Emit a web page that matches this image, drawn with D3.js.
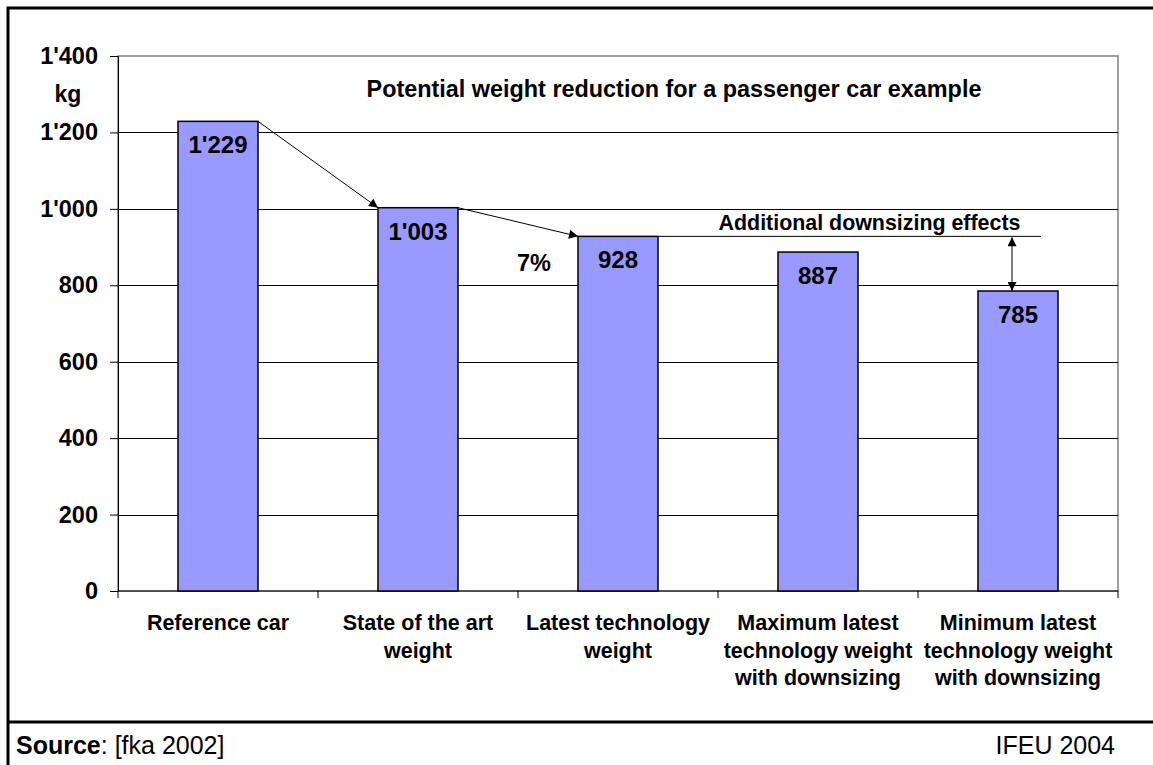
<!DOCTYPE html>
<html>
<head>
<meta charset="utf-8">
<script src="https://cdn.jsdelivr.net/npm/d3@7"></script>
<style>
  body { margin: 0; background: #fff; }
  svg { display: block; font-family: "Liberation Sans", Arial, sans-serif; }
</style>
</head>
<body>
<svg id="svg" width="1153" height="765"></svg>
<script>
// chart data
var categories = [
  ["Reference car"],
  ["State of the art", "weight"],
  ["Latest technology", "weight"],
  ["Maximum latest", "technology weight", "with downsizing"],
  ["Minimum latest", "technology weight", "with downsizing"]
];
var weights = [1229, 1003, 928, 887, 785];
var valueLabels = ["1'229", "1'003", "928", "887", "785"];
var yTicks = [0, 200, 400, 600, 800, 1000, 1200, 1400];

var svg = d3.select("#svg");

// outer frame + footer separator
svg.append("rect")
    .attr("x", 8).attr("y", 8)
    .attr("width", 1160).attr("height", 780)
    .attr("fill", "none").attr("stroke", "#000").attr("stroke-width", 3);
svg.append("line")
    .attr("x1", 8).attr("x2", 1153)
    .attr("y1", 722).attr("y2", 722)
    .attr("stroke", "#000").attr("stroke-width", 3);

var plotLeft = 118, plotRight = 1118, plotTop = 56, plotBottom = 591;

var x = d3.scaleBand()
    .domain(d3.range(weights.length))
    .range([plotLeft, plotRight])
    .paddingInner(0.6)
    .paddingOuter(0.3);

var y = d3.scaleLinear()
    .domain([0, 1400])
    .range([plotBottom, plotTop]);

// plot area border (grey)
svg.append("rect")
    .attr("x", plotLeft).attr("y", plotTop)
    .attr("width", plotRight - plotLeft).attr("height", plotBottom - plotTop)
    .attr("fill", "none").attr("stroke", "#808080").attr("stroke-width", 1.5);

// gridlines
svg.append("g")
  .selectAll("line")
  .data(yTicks.filter(function(d) { return d > 0 && d < 1400; }))
  .enter().append("line")
    .attr("x1", plotLeft).attr("x2", plotRight)
    .attr("y1", function(d) { return Math.round(y(d)) + 0.5; })
    .attr("y2", function(d) { return Math.round(y(d)) + 0.5; })
    .attr("stroke", "#000").attr("stroke-width", 1);

// y axis
var yAxis = svg.append("g")
    .attr("transform", "translate(" + plotLeft + ",0)")
    .call(d3.axisLeft(y).tickValues(yTicks).tickSize(8).tickPadding(12)
      .tickFormat(function(d) { return d3.format(",")(d).replace(",", "'"); }));
yAxis.select(".domain").attr("stroke", "#000");
yAxis.selectAll("text")
    .attr("font-size", 23.5).attr("font-weight", "bold").attr("fill", "#000")
    .attr("font-family", "Liberation Sans, Arial, sans-serif");

svg.append("text")
    .attr("x", 68).attr("y", 102)
    .attr("text-anchor", "middle")
    .attr("font-size", 23).attr("font-weight", "bold")
    .text("kg");

// x axis line + ticks at band edges
svg.append("line")
    .attr("x1", plotLeft).attr("x2", plotRight)
    .attr("y1", plotBottom).attr("y2", plotBottom)
    .attr("stroke", "#000");
var step = x.step();
svg.append("g")
  .selectAll("line")
  .data(d3.range(weights.length + 1))
  .enter().append("line")
    .attr("x1", function(i) { return plotLeft + i * step; })
    .attr("x2", function(i) { return plotLeft + i * step; })
    .attr("y1", plotBottom).attr("y2", plotBottom + 7)
    .attr("stroke", "#000");

// bars
svg.append("g")
  .selectAll("rect")
  .data(weights)
  .enter().append("rect")
    .attr("x", function(d, i) { return x(i); })
    .attr("y", function(d) { return y(d); })
    .attr("width", x.bandwidth())
    .attr("height", function(d) { return plotBottom - y(d); })
    .attr("fill", "#9999FF")
    .attr("stroke", "#000").attr("stroke-width", 1.5);

// value labels inside bars
svg.append("g")
  .selectAll("text")
  .data(weights)
  .enter().append("text")
    .attr("x", function(d, i) { return x(i) + x.bandwidth() / 2; })
    .attr("y", function(d) { return y(d) + 32; })
    .attr("text-anchor", "middle")
    .attr("font-size", 24).attr("font-weight", "bold")
    .text(function(d, i) { return valueLabels[i]; });

// category labels
var cat = svg.append("g")
  .selectAll("text")
  .data(categories)
  .enter().append("text")
    .attr("text-anchor", "middle")
    .attr("font-size", 21.5).attr("font-weight", "bold")
    .attr("x", function(d, i) { return x(i) + x.bandwidth() / 2; });
cat.selectAll("tspan")
  .data(function(d) { return d; })
  .enter().append("tspan")
    .attr("x", function() { return d3.select(this.parentNode).attr("x"); })
    .attr("y", function(d, j) { return 630 + j * 27.5; })
    .text(function(d) { return d; });

// title
svg.append("text")
    .attr("x", 674).attr("y", 97)
    .attr("text-anchor", "middle")
    .attr("font-size", 23.4).attr("font-weight", "bold")
    .text("Potential weight reduction for a passenger car example");

// arrows
var defs = svg.append("defs");
defs.append("marker")
    .attr("id", "head")
    .attr("viewBox", "0 0 10 10")
    .attr("refX", 10).attr("refY", 5)
    .attr("markerWidth", 11).attr("markerHeight", 9)
    .attr("markerUnits", "userSpaceOnUse")
    .attr("orient", "auto-start-reverse")
  .append("path")
    .attr("d", "M0,0 L10,5 L0,10 Z")
    .attr("fill", "#000");

function arrow(x1, y1, x2, y2, both) {
  var l = svg.append("line")
      .attr("x1", x1).attr("y1", y1).attr("x2", x2).attr("y2", y2)
      .attr("stroke", "#000").attr("stroke-width", 1)
      .attr("marker-end", "url(#head)");
  if (both) l.attr("marker-start", "url(#head)");
}
arrow(x(0) + x.bandwidth(), y(weights[0]), x(1), y(weights[1]));
arrow(x(1) + x.bandwidth(), y(weights[1]), x(2), y(weights[2]));

// downsizing reference line + double arrow
svg.append("line")
    .attr("x1", x(2) + x.bandwidth()).attr("x2", 1041)
    .attr("y1", y(weights[2])).attr("y2", y(weights[2]))
    .attr("stroke", "#000");
arrow(1012, y(weights[2]) + 1, 1012, y(weights[4]), true);

svg.append("text")
    .attr("x", 869.5).attr("y", 230)
    .attr("text-anchor", "middle")
    .attr("font-size", 21.4).attr("font-weight", "bold")
    .text("Additional downsizing effects");

svg.append("text")
    .attr("x", 534).attr("y", 271)
    .attr("text-anchor", "middle")
    .attr("font-size", 23.5).attr("font-weight", "bold")
    .text("7%");

// footer
var src = svg.append("text")
    .attr("x", 16).attr("y", 754)
    .attr("font-size", 25);
src.append("tspan").attr("font-weight", "bold").text("Source");
src.append("tspan").text(": [fka 2002]");

svg.append("text")
    .attr("x", 1115).attr("y", 754)
    .attr("text-anchor", "end")
    .attr("font-size", 25)
    .text("IFEU 2004");
</script>
</body>
</html>
